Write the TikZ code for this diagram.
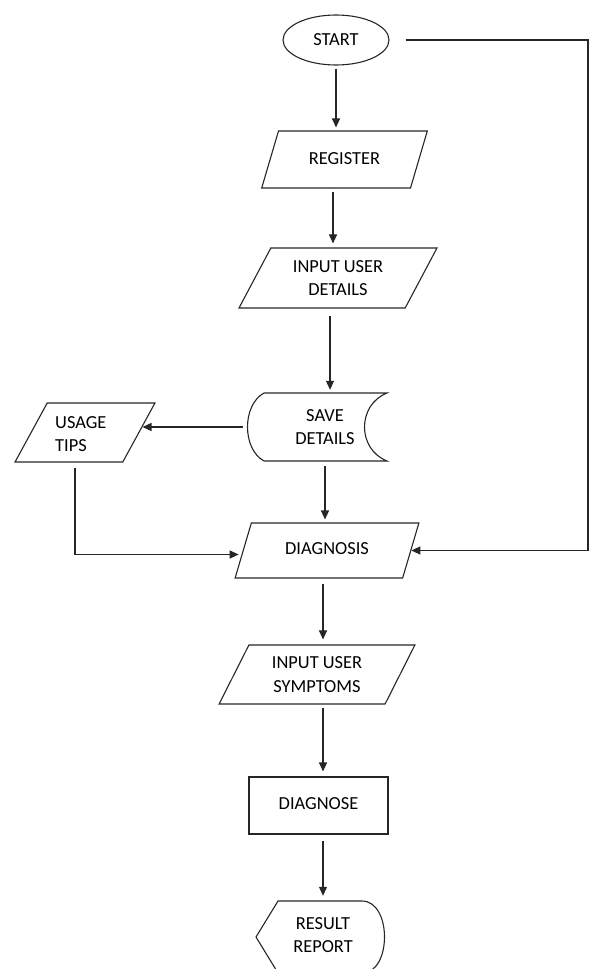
\documentclass[tikz,border=0pt]{standalone}
\usepackage{fontspec}
\setmainfont{Carlito}
\usetikzlibrary{shapes.geometric,arrows.meta,calc}
\begin{document}
\begin{tikzpicture}[x=1pt,y=-1pt,
  every node/.style={font=\fontsize{18.4}{23.5}\selectfont, text=black},
  outl/.style={draw=black!85, line width=1.1pt},
  para/.style={outl, shape=trapezium, trapezium stretches=true, inner sep=0pt, align=center},
  arr/.style={draw=black!85, line width=1.1pt, -{Triangle[width=8pt,length=9pt]}},
  conn/.style={draw=black!85, line width=1.1pt}]
\useasboundingbox (0,0) rectangle (590,969);
% START
\node[outl, ellipse, minimum width=106pt, minimum height=50pt, inner sep=0pt] (start) at (336,40) {START};
% REGISTER
\node[para, minimum width=167pt, minimum height=57pt, trapezium left angle=57, trapezium right angle=123] (reg) at (344.5,159.5) {\raisebox{2pt}{REGISTER}};
% INPUT USER DETAILS
\node[para, minimum width=198pt, minimum height=60pt, trapezium left angle=59, trapezium right angle=121] (inp) at (338,278) {INPUT USER\\DETAILS};
% SAVE DETAILS (stored data)
\draw[outl] (264,393) -- (387,393) .. controls (357,405) and (357,449) .. (387,461) -- (264,461) .. controls (242,449) and (242,405) .. (264,393) -- cycle;
\node[inner sep=0pt, minimum width=154pt, minimum height=68pt, align=center] (save) at (325,427) {SAVE\\DETAILS};
% USAGE TIPS
\node[para, minimum width=140pt, minimum height=59pt, trapezium left angle=69, trapezium right angle=111] (usage) at (85,432.5) {\phantom{A}};
\node[align=left, anchor=west, inner sep=0pt] (usagetxt) at (55,434) {USAGE\\TIPS};
% DIAGNOSIS
\node[para, minimum width=184pt, minimum height=55pt, trapezium left angle=59, trapezium right angle=121] (diag) at (327,550.5) {\raisebox{3pt}{DIAGNOSIS}};
% INPUT USER SYMPTOMS
\node[para, minimum width=196pt, minimum height=59pt, trapezium left angle=61, trapezium right angle=119] (symp) at (317,674.5) {INPUT USER\\SYMPTOMS};
% DIAGNOSE
\node[outl, rectangle, minimum width=139pt, minimum height=57pt, inner sep=0pt] (dgn) at (318.5,805.5) {\raisebox{3pt}{DIAGNOSE}};
% RESULT REPORT (display)
\draw[outl] (278,901) -- (362,901) .. controls (392,901) and (392,973) .. (362,973) -- (278,973) -- (256,937) -- cycle;
\node[inner sep=0pt, minimum width=110pt, minimum height=72pt, align=center] (res) at (323,935) {RESULT\\REPORT};
\coordinate (loopR) at (588,40);
% connectors
\draw[arr, shorten <=3pt, shorten >=3pt] (start.south) -- (start.south |- reg.north);
\draw[arr, shorten <=3pt, shorten >=4pt] ([xshift=-11.5pt]reg.south) -- ([xshift=-11.5pt]reg.south |- inp.north);
\draw[arr, shorten <=7pt, shorten >=3pt] ([xshift=-8pt]inp.south) -- ([xshift=-8pt]inp.south |- save.north);
\draw[arr, shorten <=5pt] (save.west) -- ([xshift=3pt]save.west -| usage.east);
\draw[arr, shorten <=5pt, shorten >=3pt] (save.south) -- (save.south |- diag.north);
\draw[arr, shorten <=5pt, shorten >=4pt] ([xshift=-10pt]usage.south) |- ([yshift=-4pt]diag.west);
\draw[arr, shorten <=16pt] (start.east) -- (loopR) |- (diag.east);
\draw[arr, shorten <=5pt, shorten >=5pt] ([xshift=-4pt]diag.south) -- ([xshift=-4pt]diag.south |- symp.north);
\draw[arr, shorten <=3pt, shorten >=5pt] ([xshift=6pt]symp.south) -- ([xshift=6pt]symp.south |- dgn.north);
\draw[arr, shorten <=6pt, shorten >=3pt] ([xshift=4.5pt]dgn.south) -- ([xshift=4.5pt]dgn.south |- res.north);
\end{tikzpicture}
\end{document}
